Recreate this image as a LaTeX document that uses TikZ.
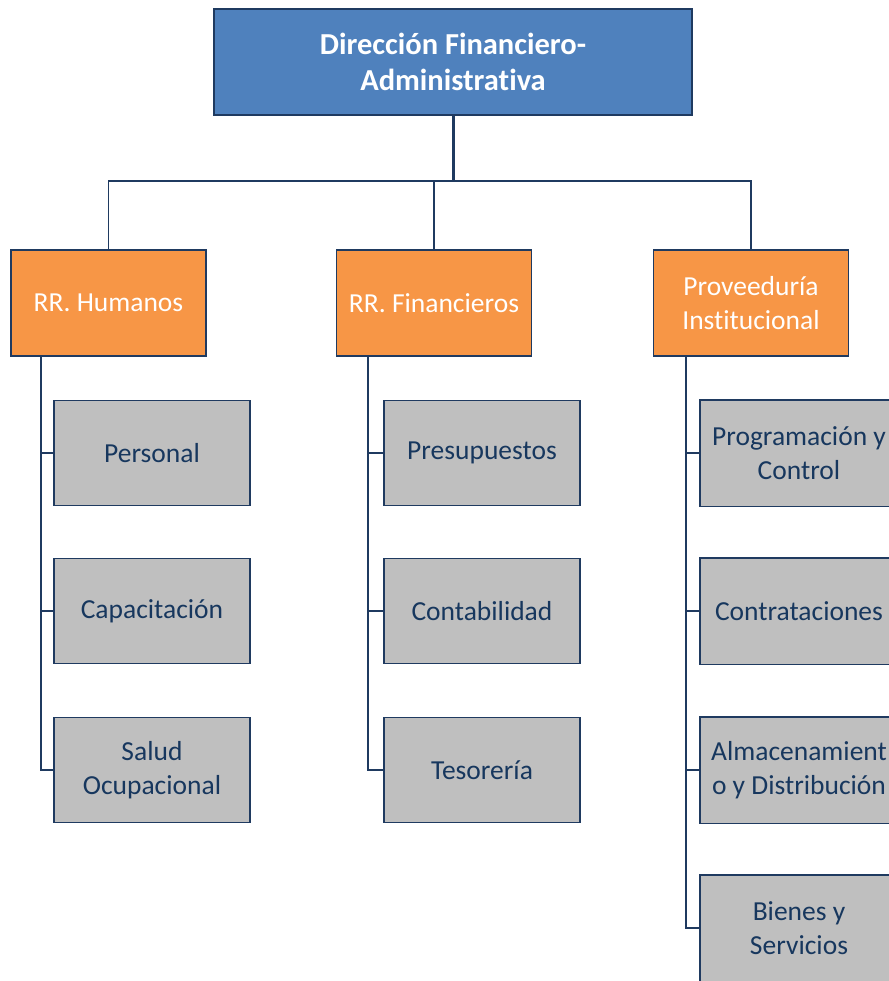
\documentclass[tikz,border=0pt]{standalone}
\usepackage{fontspec}
\setmainfont[Ligatures=NoCommon]{Carlito}
\usetikzlibrary{backgrounds}
\definecolor{headblue}{HTML}{4F81BD}
\definecolor{unitorange}{HTML}{F79646}
\definecolor{subgray}{HTML}{BFBFBF}
\definecolor{navy}{HTML}{1F3A60}
\definecolor{textnavy}{HTML}{17375E}
\begin{document}
\begin{tikzpicture}[x=1pt,y=-1pt,
  boxbase/.style={draw=navy,line width=1.6pt,inner sep=0pt,align=center},
  headbox/.style={boxbase,fill=headblue,minimum width=478pt,minimum height=106pt,
    text=white,font=\fontsize{30.5}{36}\selectfont\bfseries},
  unitbox/.style={boxbase,fill=unitorange,minimum width=195pt,minimum height=106pt,
    text=white,font=\fontsize{27.5}{34}\selectfont},
  subbox/.style={boxbase,fill=subgray,minimum width=196pt,minimum height=105pt,
    text=textnavy,font=\fontsize{27.5}{34}\selectfont},
  % boxes that run past the right edge of the sheet: only text here,
  % the body is painted on the background layer
  edgebox/.style={subbox,draw=none,fill=none},
  conn/.style={draw=navy,line width=1.6pt},
  stem/.style={draw=navy,line width=3pt}]
\useasboundingbox (0,0) rectangle (888,981);
\clip (0,0) rectangle (888,981);

% top level
\node[headbox] (dir) at (453,62) {Dirección Financiero-\\Administrativa};

% second level
\node[unitbox] (hum) at (108.5,303) {RR. Humanos};
\node[unitbox] (fin) at (434,303) {RR. Financieros};
\node[unitbox] (prov) at (751,303) {Proveeduría\\Institucional};

% third level
\node[subbox] (pers) at (152,453) {Personal};
\node[subbox] (capa) at (152,611) {Capacitación};
\node[subbox] (salud) at (152,770) {Salud\\Ocupacional};

\node[subbox] (pres) at (482,453) {Presupuestos};
\node[subbox] (cont) at (482,611) {Contabilidad};
\node[subbox] (teso) at (482,770) {Tesorería};

\node[edgebox] (prog) at (799,453) {Programación y\\Control};
\node[edgebox] (contr) at (799,611) {Contrataciones};
\node[edgebox] (alma) at (799,770) {Almacenamient\\o y Distribución};
\node[edgebox] (bien) at (799,928) {Bienes y\\Servicios};

\begin{scope}[on background layer]
  \foreach \s in {prog,contr,alma,bien}{
    \fill[subgray] (\s.north west) rectangle ([xshift=60pt]\s.south east);
    \draw[conn] ([xshift=60pt]\s.north east) -- (\s.north west)
      -- (\s.south west) -- ([xshift=60pt]\s.south east);
  }
\end{scope}

% bus below the head box
\coordinate (bus) at (453,181);
\draw[stem] (dir.south) -- (bus);
\draw[conn] (bus) -| (hum.north);
\draw[conn] (bus) -| (fin.north);
\draw[conn] (bus) -| (prov.north);

% spines under each unit
\coordinate (humsp) at (41,356);
\coordinate (finsp) at (368,356);
\coordinate (provsp) at (686,356);
\foreach \s in {pers,capa,salud} \draw[conn] (humsp) |- (\s.west);
\foreach \s in {pres,cont,teso} \draw[conn] (finsp) |- (\s.west);
\foreach \s in {prog,contr,alma,bien} \draw[conn] (provsp) |- (\s.west);

% head box again, over the stem's top end
\node[headbox] at (dir) {Dirección Financiero-\\Administrativa};
\end{tikzpicture}
\end{document}
